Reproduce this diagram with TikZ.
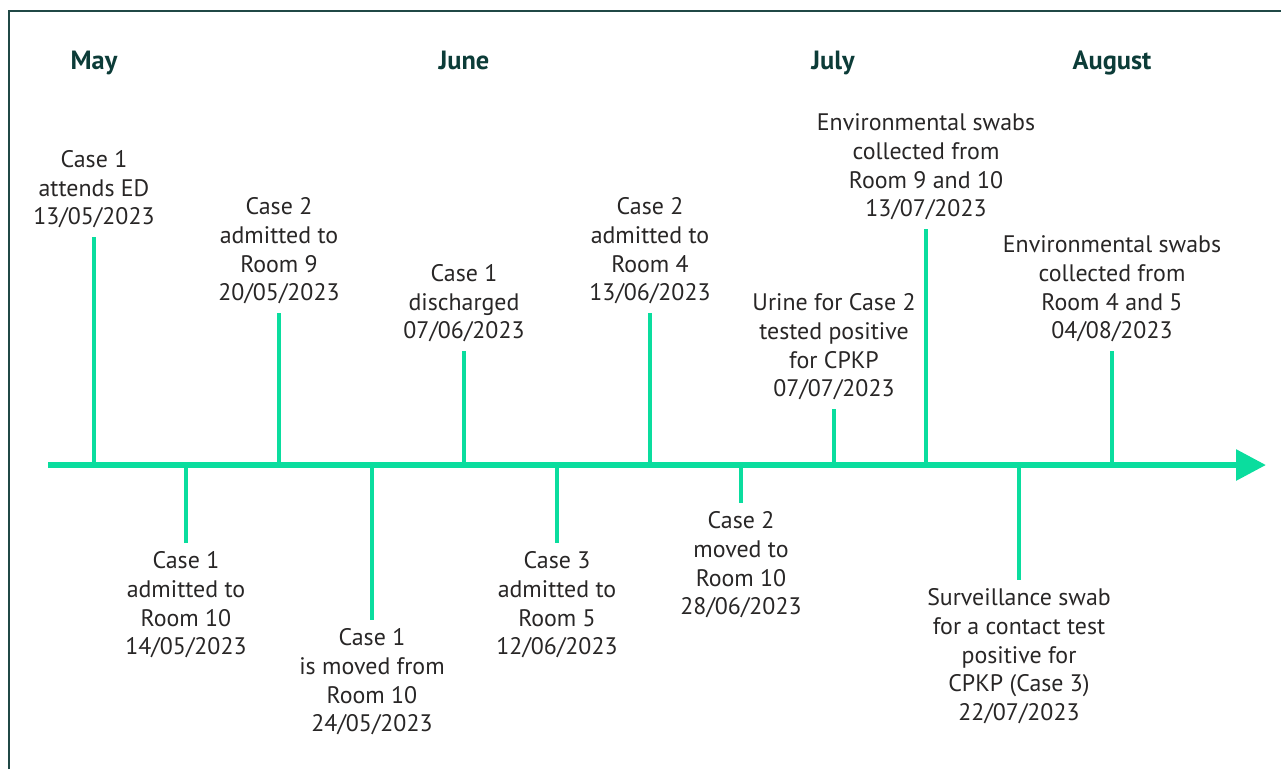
\documentclass[tikz,border=0pt]{standalone}
\usepackage{fontspec}
\setmainfont{PT Sans}
\usetikzlibrary{arrows.meta, positioning}
\definecolor{linegreen}{RGB}{10,221,158}
\definecolor{monthteal}{RGB}{12,60,56}
\definecolor{frameteal}{RGB}{32,72,70}
\definecolor{textgray}{RGB}{40,38,38}

\begin{document}
\begin{tikzpicture}[x=0.02cm, y=-0.02cm,
    % Month headings along the top
    month/.style={font=\fontsize{15}{18}\selectfont\bfseries, text=monthteal, anchor=base},
    % Event labels, centred on their tick
    event/.style={align=center, font=\fontsize{13.6}{16.3}\selectfont, text=textgray,
      inner xsep=0pt, inner ysep=0.17cm},
    % Ticks and the time axis
    tick/.style={draw=linegreen, line width=2.3pt},
    axis/.style={draw=linegreen, line width=3.4pt,
      -{Triangle[length=0.6cm, width=0.6cm]}}
  ]
  % --- Dimensions (in pixels of the reference) ---
  \def\AxisY{465}   % y of the time axis
  \def\MonthY{69}   % baseline of the month names

  % --- Frame and bounding box ---
  \useasboundingbox (0,0) rectangle (1281,769);
  \draw[frameteal, line width=1.1pt] (9,769) -- (9,11) -- (1281,11);

  % --- Months ---
  \node[month] (may) at (94,\MonthY) {May};
  \node[month] (june) at (464,\MonthY) {June};
  \node[month] (july) at (833,\MonthY) {July};
  \node[month] (august) at (1112,\MonthY) {August};

  % --- Time axis ---
  \coordinate (axisstart) at (48,\AxisY);
  \coordinate (axisend) at (1266,\AxisY);
  \draw[axis] (axisstart) -- (axisend);

  % --- Events above the axis ---
  \coordinate (edAxis) at (94,\AxisY);
  \node[event, above] (ed) at (94,237) {Case 1\\attends ED\\13/05/2023};
  \draw[tick] (edAxis) -- (ed);

  \coordinate (roomnineAxis) at (279,\AxisY);
  \node[event, above] (roomnine) at (279,313) {Case 2\\admitted to\\Room 9\\20/05/2023};
  \draw[tick] (roomnineAxis) -- (roomnine);

  \coordinate (dischargeAxis) at (464,\AxisY);
  \node[event, above] (discharge) at (464,351) {Case 1\\discharged\\07/06/2023};
  \draw[tick] (dischargeAxis) -- (discharge);

  \coordinate (roomfourAxis) at (650,\AxisY);
  \node[event, above] (roomfour) at (650,313) {Case 2\\admitted to\\Room 4\\13/06/2023};
  \draw[tick] (roomfourAxis) -- (roomfour);

  \coordinate (urineAxis) at (834,\AxisY);
  \node[event, above] (urine) at (834,409) {Urine for Case 2\\tested positive\\for CPKP\\07/07/2023};
  \draw[tick] (urineAxis) -- (urine);

  \coordinate (swabjulAxis) at (926,\AxisY);
  \node[event, above] (swabjul) at (926,229) {Environmental swabs\\collected from\\Room 9 and 10\\13/07/2023};
  \draw[tick] (swabjulAxis) -- (swabjul);

  \coordinate (swabaugAxis) at (1112,\AxisY);
  \node[event, above] (swabaug) at (1112,351) {Environmental swabs\\collected from\\Room 4 and 5\\04/08/2023};
  \draw[tick] (swabaugAxis) -- (swabaug);

  % --- Events below the axis ---
  \coordinate (roomtenAxis) at (186,\AxisY);
  \node[event, below] (roomten) at (186,543) {Case 1\\admitted to\\Room 10\\14/05/2023};
  \draw[tick] (roomtenAxis) -- (roomten);

  \coordinate (movedAxis) at (372,\AxisY);
  \node[event, below] (moved) at (372,620) {Case 1\\is moved from\\Room 10\\24/05/2023};
  \draw[tick] (movedAxis) -- (moved);

  \coordinate (roomfiveAxis) at (557,\AxisY);
  \node[event, below] (roomfive) at (557,543) {Case 3\\admitted to\\Room 5\\12/06/2023};
  \draw[tick] (roomfiveAxis) -- (roomfive);

  \coordinate (movetenAxis) at (741,\AxisY);
  \node[event, below] (moveten) at (741,503) {Case 2\\moved to\\Room 10\\28/06/2023};
  \draw[tick] (movetenAxis) -- (moveten);

  \coordinate (contactAxis) at (1019,\AxisY);
  \node[event, below] (contact) at (1019,580) {Surveillance swab\\for a contact test\\positive for\\CPKP (Case 3)\\22/07/2023};
  \draw[tick] (contactAxis) -- (contact);
\end{tikzpicture}
\end{document}
